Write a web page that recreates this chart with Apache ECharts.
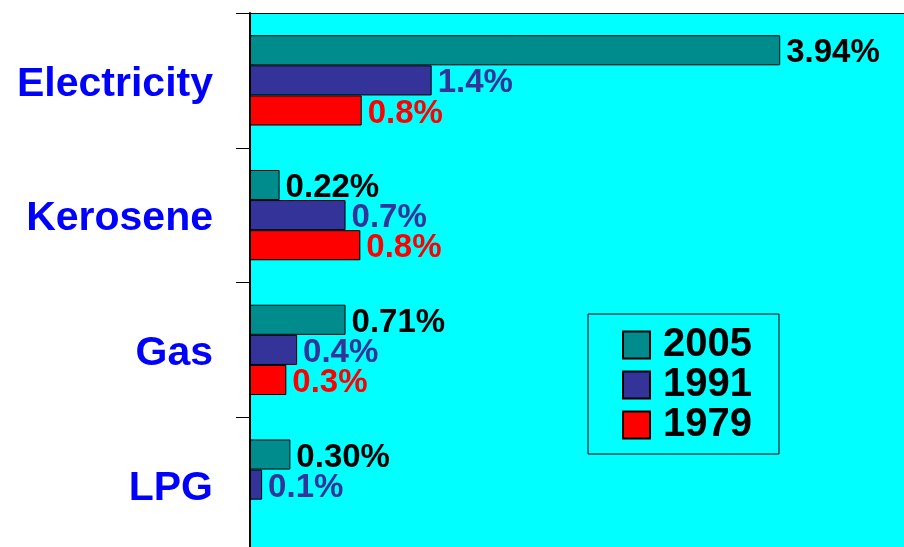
<!DOCTYPE html>
<html>
<head>
<meta charset="utf-8">
<script src="https://cdn.jsdelivr.net/npm/echarts@6/dist/echarts.min.js"></script>
<style>html,body{margin:0;padding:0;background:#fff;}#c{width:904px;height:547px;}</style>
</head>
<body>
<div id="c"></div>
<script>
// categories bottom-to-top
var categories = ['LPG', 'Gas', 'Kerosene', 'Electricity'];
var years = ['2005', '1991', '1979'];
var values2005 = [0.30, 0.71, 0.22, 3.94];
var values1991 = [0.09, 0.35, 0.71, 1.35];
var values1979 = [null, 0.27, 0.82, 0.83];
var labels2005 = ['0.30%', '0.71%', '0.22%', '3.94%'];
var labels1991 = ['0.1%', '0.4%', '0.7%', '1.4%'];
var labels1979 = ['', '0.3%', '0.8%', '0.8%'];

var FONT = '"Liberation Sans", Arial, Helvetica, sans-serif';
var chart = echarts.init(document.getElementById('c'), null, {renderer: 'canvas'});

function mk(name, vals, labs, color, labColor) {
  return {
    name: name, type: 'bar', data: vals,
    barGap: '0%', barCategoryGap: '33%',
    itemStyle: {color: color, borderColor: '#000', borderWidth: 1},
    label: {
      show: true, position: 'right', distance: 6,
      formatter: function (p) { return '{a|' + labs[p.dataIndex] + '}'; },
      rich: {a: {color: labColor, fontSize: 33, fontWeight: 'bold', fontFamily: FONT, padding: [6, 0, 0, 0]}}
    },
    animation: false
  };
}

chart.setOption({
  backgroundColor: '#ffffff',
  animation: false,
  grid: {left: 250, top: 13, right: 0, bottom: -5, containLabel: false, outerBoundsMode: 'none',
         show: true, backgroundColor: '#00FFFF', borderWidth: 0},
  xAxis: {
    type: 'value', min: 0, max: 4.86, position: 'top',
    axisLine: {show: true, lineStyle: {color: '#000', width: 1}},
    axisTick: {show: false}, axisLabel: {show: false}, splitLine: {show: false}
  },
  yAxis: {
    type: 'category', data: categories,
    axisLine: {show: true, lineStyle: {color: '#000', width: 2}},
    axisTick: {show: true, length: 14, lineStyle: {color: '#000', width: 1}},
    axisLabel: {
      margin: 37,
      formatter: function (v) { return '{c|' + v + '}'; },
      rich: {c: {color: '#0000FF', fontSize: 41, fontWeight: 'bold', fontFamily: FONT, padding: [8, 0, 0, 0]}}
    }
  },
  legend: {
    data: years, orient: 'vertical', left: 588, top: 314,
    padding: [11, 27, 9, 34], itemGap: 0,
    itemWidth: 27, itemHeight: 27, icon: 'rect',
    borderColor: '#000', borderWidth: 1, backgroundColor: 'transparent',
    textStyle: {color: '#000', fontSize: 40, fontWeight: 'bold', fontFamily: FONT, lineHeight: 38, padding: [0, 0, 0, 8]}
  },
  series: [
    mk('2005', values2005, labels2005, '#008C8C', '#000000'),
    mk('1991', values1991, labels1991, '#333399', '#333399'),
    mk('1979', values1979, labels1979, '#FF0000', '#FF0000')
  ]
});
</script>
</body>
</html>
